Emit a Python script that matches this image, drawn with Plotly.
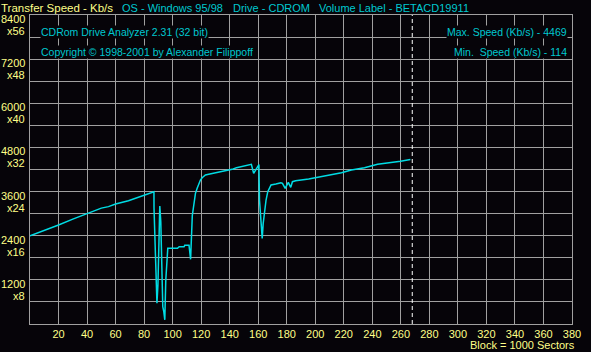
import plotly.graph_objects as go

# ---- data ----
blocks = [0, 10, 20, 30, 40, 50, 55, 60, 69, 80.5, 86.9, 86.95, 87.6, 88.3, 89.0, 89.7,
          90.3, 91.0, 91.7, 92.0, 92.4, 93.1, 93.8, 94.5, 95.2, 95.9, 96.6, 103.4, 104.6,
          108.0, 108.5, 111.5, 112.6, 113.8, 114.9, 116.0, 117.2, 118.4, 119.5, 120.7,
          121.8, 123.0, 125.3, 128.7, 132.2, 135.6, 139.1, 142.5, 144.8, 148.3, 151.7,
          155.2, 156.8, 158.6, 160.5, 160.9, 161.5, 162.1, 162.8, 163.5, 164.4, 165.5,
          166.7, 167.8, 169.0, 172.4, 175.9, 177.0, 178.1, 178.9, 181.1, 182.8, 184.0,
          186.2, 195.4, 202.3, 209.2, 218.4, 225.3, 234.5, 243.7, 254.0, 259.8, 266.7]
speed = [2400, 2540, 2690, 2850, 3000, 3150, 3190, 3262, 3352, 3506, 3596, 3145, 2102, 1014, 562, 1060,
         2737, 3207, 2781, 2011, 1286, 471, 335, 114, 1196, 1740, 2057, 2057, 2100,
         2100, 2139, 2139, 1758, 2950, 3261, 3552, 3688, 3823, 3914, 3977,
         4023, 4050, 4068, 4095, 4122, 4158, 4186, 4213, 4250, 4277, 4313,
         4340, 4095, 4231, 4335, 3370, 2917, 2650, 2329, 2736, 3099, 3370,
         3597, 3705, 3778, 3805, 3841, 3823, 3732, 3688, 3850, 3715, 3868,
         3895, 3941, 3987, 4050, 4113, 4186, 4250, 4340, 4386, 4422, 4469]
end_block = 268
x_ticks = list(range(20, 381, 20))
y_label_vals = [8400, 7200, 6000, 4800, 3600, 2400, 1200]
y_label_mult = ["x56", "x48", "x40", "x32", "x24", "x16", "x8"]

BG = "#060409"
CYAN = "#00c8d0"
LINE = "#00dce4"
YEL = "#ffff88"
GRID = "#a0a0a0"
FONT = "Liberation Sans"
FS = 11
FS_IN = 10.5

fig = go.Figure()
fig.add_trace(go.Scatter(x=blocks, y=speed, mode="lines",
                         line=dict(color=LINE, width=1.5), hoverinfo="skip"))

fig.add_shape(type="line", xref="x", yref="paper", x0=end_block, x1=end_block, y0=0, y1=1,
              line=dict(color="white", width=1, dash="4px,3px"))

ann = []
def A(text, x, y, xanchor, color, xshift=0, yshift=0, bg=None, xref="paper", yref="paper",
      yanchor="middle", size=FS):
    d = dict(text=text, x=x, y=y, xref=xref, yref=yref, xanchor=xanchor, yanchor=yanchor,
             showarrow=False, font=dict(family=FONT, size=size, color=color),
             xshift=xshift, yshift=yshift, borderpad=0)
    if bg:
        d["bgcolor"] = bg
    ann.append(d)

# header row (paper x=0 is px 30, paper y=1 is px 15)
A("Transfer Speed - Kb/s", 0, 1, "left", YEL, xshift=-30, yshift=7, size=11.5)
A("OS - Windows 95/98", 0, 1, "left", CYAN, xshift=91, yshift=7)
A("Drive - CDROM", 0, 1, "left", CYAN, xshift=202, yshift=7)
A("Volume Label - BETACD19911", 0, 1, "left", CYAN, xshift=288, yshift=7)

# inner info
A("CDRom Drive Analyzer 2.31 (32 bit)", 0, 1, "left", CYAN, xshift=10, yshift=-17, bg=BG, size=FS_IN)
A("Copyright © 1998-2001 by Alexander Filippoff", 0, 1, "left", CYAN, xshift=10, yshift=-37, bg=BG, size=FS_IN)
A("Max. Speed (Kb/s) - 4469", 1, 1, "right", CYAN, xshift=-4, yshift=-17, bg=BG, size=FS_IN)
A("Min.  Speed (Kb/s) - 114", 1, 1, "right", CYAN, xshift=-4, yshift=-37, bg=BG, size=FS_IN)

# footer
A("Block = 1000 Sectors", 1, 0, "right", YEL, xshift=4, yshift=-21)

# y labels
for v, m in zip(y_label_vals, y_label_mult):
    A(str(v), 0, v, "right", YEL, xshift=-4, yshift=-4, yref="y")
    A(m, 0, v, "right", YEL, xshift=-4, yshift=-16, yref="y")

fig.update_layout(
    width=591, height=352,
    margin=dict(l=30, r=10, t=15, b=28),
    paper_bgcolor=BG, plot_bgcolor=BG,
    showlegend=False,
    annotations=ann,
    xaxis=dict(range=[0, 380], tickvals=x_ticks, ticktext=[str(t) for t in x_ticks],
               showgrid=True, gridcolor=GRID, gridwidth=1, zeroline=False,
               showline=True, linecolor=GRID, linewidth=1, mirror=True,
               ticks="", tickfont=dict(family=FONT, size=FS, color=YEL), fixedrange=True),
    yaxis=dict(range=[0, 8400], dtick=600, showticklabels=False,
               showgrid=True, gridcolor=GRID, gridwidth=1, zeroline=False,
               showline=True, linecolor=GRID, linewidth=1, mirror=True,
               ticks="", fixedrange=True),
)

fig.write_html("out.html", config={"displayModeBar": False})
